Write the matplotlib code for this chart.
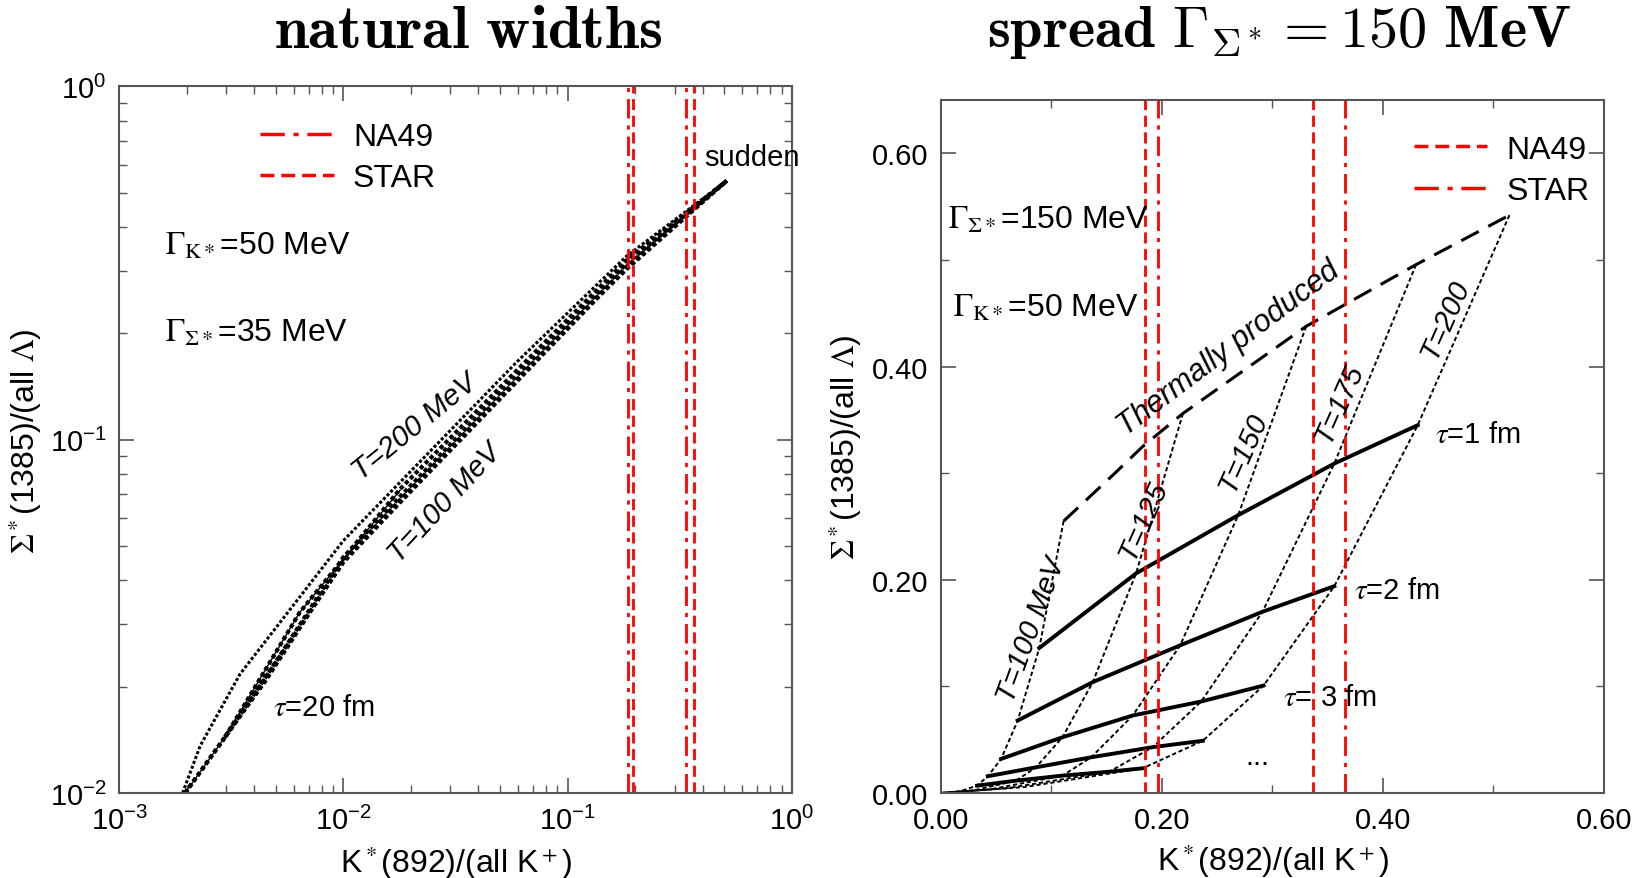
import numpy as np
import matplotlib.pyplot as plt
from matplotlib.lines import Line2D
from matplotlib.ticker import MultipleLocator, FixedLocator

plt.rcParams['font.family'] = ['Liberation Sans Narrow', 'Liberation Sans', 'DejaVu Sans']
plt.rcParams['mathtext.fontset'] = 'stix'

# measured K*/K ranges (vertical bands)
na49_ratio = [0.185, 0.337]
star_ratio = [0.196, 0.366]

# natural widths: ratio curves for T = 100 ... 200 MeV (log-log panel)
nat_t100_x = [0.00197, 0.00297, 0.00425, 0.0100, 0.0179, 0.139, 0.183, 0.512]
nat_t100_y = [0.0100, 0.0144, 0.0201, 0.0450, 0.0665, 0.256, 0.304, 0.541]
nat_t125_x = [0.00197, 0.00297, 0.0045, 0.0100, 0.0179, 0.0593, 0.183, 0.512]
nat_t125_y = [0.0100, 0.0144, 0.0208, 0.0455, 0.0675, 0.148, 0.309, 0.541]
nat_t150_x = [0.00297, 0.0050, 0.0100, 0.0179, 0.0593, 0.183, 0.512]
nat_t150_y = [0.0144, 0.0235, 0.0465, 0.0690, 0.152, 0.315, 0.541]
nat_t175_x = [0.00297, 0.0064, 0.0179, 0.0593, 0.183, 0.512]
nat_t175_y = [0.0144, 0.0325, 0.0725, 0.157, 0.322, 0.541]
nat_t200_x = [0.00192, 0.0023, 0.00346, 0.0100, 0.0593, 0.183, 0.512]
nat_t200_y = [0.0100, 0.0136, 0.0217, 0.0518, 0.166, 0.331, 0.541]
tau20_x = [0.00197, 0.00297, 0.0064, 0.0179]
tau20_y = [0.0100, 0.0144, 0.0325, 0.0720]

# spread widths: grid nodes, columns are T = 100, 125, 150, 175, 200 MeV
therm_x = [0.111, 0.1585, 0.1826, 0.219, 0.3305, 0.430, 0.5145]
therm_y = [0.255, 0.301, 0.325, 0.356, 0.4377, 0.4956, 0.542]
therm_nodes = [0, 3, 4, 5, 6]
tau1_x = [0.089, 0.1766, 0.269, 0.356, 0.4315]
tau1_y = [0.136, 0.206, 0.2606, 0.309, 0.345]
tau2_x = [0.0695, 0.1374, 0.2165, 0.291, 0.356]
tau2_y = [0.068, 0.104, 0.1385, 0.170, 0.194]
tau3_x = [0.0545, 0.110, 0.1736, 0.2355, 0.292]
tau3_y = [0.032, 0.0523, 0.0727, 0.0858, 0.1008]
tau4_x = [0.0424, 0.086, 0.136, 0.1917, 0.237]
tau4_y = [0.0157, 0.0241, 0.0335, 0.043, 0.049]
tau5_x = [0.0327, 0.068, 0.110, 0.1525, 0.1826]
tau5_y = [0.0069, 0.0116, 0.0163, 0.020, 0.0232]
tail_x = [0.017, 0.030, 0.045, 0.060, 0.075]
tail_y = [0.0015, 0.0025, 0.0035, 0.0045, 0.0055]

fig = plt.figure(figsize=(16.33, 8.79), dpi=100)
ax1 = fig.add_axes([0.0729, 0.0967, 0.4121, 0.8038])
ax2 = fig.add_axes([0.5762, 0.0967, 0.4060, 0.7884])

dash_dot = (0, (7, 2.5, 1.5, 2.5))
dashed = (0, (4, 2))
dotted = (0, (1, 0.7))
fine_dot = (0, (2.2, 1.4))

for ax in (ax1, ax2):
    for s in ax.spines.values():
        s.set_color('#555555')
        s.set_linewidth(1.5)
    ax.tick_params(which='both', direction='in', top=True, right=True,
                   colors='#555555', labelcolor='black', labelsize=21)
    ax.tick_params(which='major', length=11, width=1.2, pad=9)
    ax.tick_params(which='minor', length=6, width=1.0)

# ---- left panel: natural widths ----
ax1.set_xscale('log')
ax1.set_yscale('log')
ax1.set_xlim(1e-3, 1)
ax1.set_ylim(1e-2, 1)

for xs, ys in [(nat_t100_x, nat_t100_y), (nat_t125_x, nat_t125_y),
               (nat_t150_x, nat_t150_y), (nat_t175_x, nat_t175_y)]:
    ax1.plot(xs, ys, color='black', lw=3.0, ls=dotted)
ax1.plot(nat_t200_x, nat_t200_y, color='black', lw=2.2, ls=dotted)
ax1.plot(tau20_x, tau20_y, color='black', lw=1.0)

for v in na49_ratio:
    ax1.axvline(v, color='red', lw=2, ls=dash_dot)
for v in star_ratio:
    ax1.axvline(v, color='red', lw=2, ls=dashed)

ax1.legend(handles=[Line2D([], [], color='red', lw=2.5, ls=dash_dot, label='NA49'),
                    Line2D([], [], color='red', lw=2.5, ls=dashed, label='STAR')],
           loc='upper left', bbox_to_anchor=(0.21, 0.95), frameon=False, fontsize=23,
           handlelength=2.3, handletextpad=0.6, labelspacing=0.35,
           borderpad=0, borderaxespad=0)

ax1.text(0.068, 0.774, r'$\Gamma_{\mathrm{K}*}$=50 MeV', transform=ax1.transAxes,
         fontsize=23, va='center')
ax1.text(0.068, 0.652, r'$\Gamma_{\Sigma*}$=35 MeV', transform=ax1.transAxes,
         fontsize=23, va='center')
ax1.text(0.869, 0.900, 'sudden', transform=ax1.transAxes, fontsize=21, va='center')
ax1.text(0.229, 0.122, r'$\tau$=20 fm', transform=ax1.transAxes, fontsize=21, va='center')
ax1.text(0.439, 0.519, 'T=200 MeV', transform=ax1.transAxes, fontsize=21,
         style='italic', rotation=39, ha='center', va='center')
ax1.text(0.484, 0.412, 'T=100 MeV', transform=ax1.transAxes, fontsize=21,
         style='italic', rotation=47, ha='center', va='center')

ax1.set_xlabel(r'K$^*$(892)/(all K$^+$)', fontsize=23, labelpad=6)
ax1.set_ylabel(r'$\Sigma^*$(1385)/(all $\Lambda$)', fontsize=23, labelpad=4)

# ---- right panel: spread widths ----
ax2.set_xlim(0, 0.6)
ax2.set_ylim(0, 0.65)
ax2.xaxis.set_major_locator(FixedLocator([0, 0.2, 0.4, 0.6]))
ax2.yaxis.set_major_locator(FixedLocator([0, 0.2, 0.4, 0.6]))
ax2.xaxis.set_minor_locator(MultipleLocator(0.1))
ax2.yaxis.set_minor_locator(MultipleLocator(0.1))
ax2.xaxis.set_major_formatter(lambda v, p: f'{v:.2f}')
ax2.yaxis.set_major_formatter(lambda v, p: f'{v:.2f}')

rows_x = [tau1_x, tau2_x, tau3_x, tau4_x, tau5_x]
rows_y = [tau1_y, tau2_y, tau3_y, tau4_y, tau5_y]
for i in range(5):
    j = therm_nodes[i]
    xs = [therm_x[j]] + [r[i] for r in rows_x] + [tail_x[i], 0.0]
    ys = [therm_y[j]] + [r[i] for r in rows_y] + [tail_y[i], 0.0]
    ax2.plot(xs, ys, color='black', lw=1.4, ls=fine_dot)

for xs, ys in zip(rows_x, rows_y):
    ax2.plot(xs, ys, color='black', lw=2.8)
ax2.plot(therm_x, therm_y, color='black', lw=2.2, ls=(0, (6.5, 3.5)))

for v in na49_ratio:
    ax2.axvline(v, color='red', lw=2, ls=dashed)
for v in star_ratio:
    ax2.axvline(v, color='red', lw=2, ls=dash_dot)

ax2.legend(handles=[Line2D([], [], color='red', lw=2.5, ls=dashed, label='NA49'),
                    Line2D([], [], color='red', lw=2.5, ls=dash_dot, label='STAR')],
           loc='upper left', bbox_to_anchor=(0.713, 0.95), frameon=False, fontsize=23,
           handlelength=2.3, handletextpad=0.6, labelspacing=0.35,
           borderpad=0, borderaxespad=0)

ax2.text(0.0106, 0.827, r'$\Gamma_{\Sigma*}$=150 MeV', transform=ax2.transAxes,
         fontsize=23, va='center')
ax2.text(0.018, 0.700, r'$\Gamma_{\mathrm{K}*}$=50 MeV', transform=ax2.transAxes,
         fontsize=23, va='center')
ax2.text(0.434, 0.642, 'Thermally produced', transform=ax2.transAxes, fontsize=22,
         style='italic', rotation=37, ha='center', va='center')
ax2.text(0.136, 0.237, 'T=100 MeV', transform=ax2.transAxes, fontsize=21,
         style='italic', rotation=70, ha='center', va='center')
for lab, px, py in [('T=125', 0.305, 0.394), ('T=150', 0.456, 0.492),
                    ('T=175', 0.600, 0.564), ('T=200', 0.760, 0.684)]:
    ax2.text(px, py, lab, transform=ax2.transAxes, fontsize=21,
             style='italic', rotation=66, ha='center', va='center')
ax2.text(0.745, 0.518, r'$\tau$=1 fm', transform=ax2.transAxes, fontsize=21, va='center')
ax2.text(0.623, 0.293, r'$\tau$=2 fm', transform=ax2.transAxes, fontsize=21, va='center')
ax2.text(0.516, 0.139, r'$\tau$= 3 fm', transform=ax2.transAxes, fontsize=21, va='center')
ax2.text(0.478, 0.053, '...', transform=ax2.transAxes, fontsize=21, ha='center', va='center')

ax2.set_xlabel(r'K$^*$(892)/(all K$^+$)', fontsize=23, labelpad=6)
ax2.set_ylabel(r'$\Sigma^*$(1385)/(all $\Lambda$)', fontsize=23, labelpad=6)

fig.text(0.2866, 0.9625, r'$\mathbf{natural\ widths}$', math_fontfamily='cm',
         fontsize=44, ha='center', va='center')
fig.text(0.7832, 0.9625, r'$\mathbf{spread}\ \Gamma_{\Sigma^*} = 150\ \mathbf{MeV}$',
         math_fontfamily='cm', fontsize=42, ha='center', va='center')

fig.savefig('out.png', dpi=100)
